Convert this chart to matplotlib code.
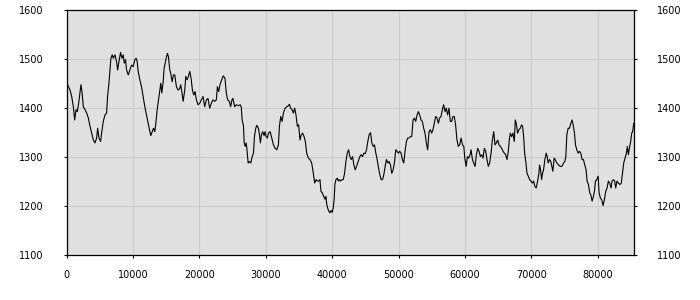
import numpy as np
import matplotlib
matplotlib.use('Agg')
import matplotlib.pyplot as plt

# values, in three stretches (sample index, level)
x_first = [0, 250, 500, 750, 1000, 1200, 1400, 1600, 1800, 2000,
           2150, 2300, 2500, 2760, 3010, 3260, 3510, 3760, 4010, 4260,
           4510, 4660, 4860, 5110, 5260, 5510, 5760, 6010, 6160, 6360,
           6510, 6660, 6860, 7010, 7260, 7520, 7670, 7920, 8120, 8320,
           8520, 8670, 8870, 9020, 9270, 9520, 9770, 10020, 10270, 10470,
           10620, 10770, 11020, 11270, 11520, 11770, 12020, 12270, 12530, 12680,
           12880, 13080, 13280, 13430, 13630, 13830, 14030, 14180, 14330, 14530,
           14680, 14880, 15030, 15180, 15330, 15530, 15680, 15880, 16080, 16280,
           16530, 16780, 17030, 17180, 17380, 17540, 17790, 17940, 18140, 18340,
           18540, 18740, 18940, 19140, 19340, 19540, 19790, 20040, 20290, 20540,
           20790, 21040, 21290, 21540, 21790, 22040, 22290, 22550, 22700, 22900,
           23100, 23350, 23600, 23850, 24050, 24250, 24500, 24700, 24900, 25050,
           25300, 25550, 25800]
y_first = [1454, 1444, 1437, 1424, 1403, 1376, 1397, 1393, 1410, 1431,
           1448, 1434, 1403, 1397, 1390, 1380, 1363, 1349, 1335, 1329,
           1339, 1359, 1339, 1332, 1349, 1373, 1386, 1390, 1424, 1451,
           1478, 1502, 1509, 1502, 1509, 1495, 1478, 1499, 1514, 1502,
           1509, 1492, 1499, 1478, 1468, 1478, 1488, 1485, 1499, 1502,
           1495, 1475, 1458, 1444, 1424, 1403, 1386, 1369, 1352, 1344,
           1352, 1359, 1352, 1369, 1397, 1417, 1437, 1451, 1431, 1454,
           1482, 1495, 1505, 1512, 1505, 1478, 1471, 1454, 1468, 1468,
           1444, 1437, 1440, 1448, 1431, 1414, 1437, 1465, 1458, 1465,
           1475, 1461, 1437, 1427, 1434, 1417, 1407, 1410, 1417, 1424,
           1403, 1417, 1420, 1400, 1410, 1417, 1414, 1417, 1444, 1434,
           1448, 1458, 1466, 1461, 1431, 1417, 1414, 1403, 1417, 1420,
           1403, 1407, 1405]

x_middle = [26140, 26290, 26440, 26640, 26740, 26890, 27040, 27140, 27340, 27540,
            27740, 27940, 28140, 28290, 28490, 28640, 28890, 29040, 29190, 29340,
            29540, 29740, 29890, 30040, 30240, 30390, 30650, 30900, 31150, 31400,
            31650, 31900, 32050, 32250, 32450, 32650, 32900, 33150, 33400, 33550,
            33750, 33950, 34150, 34350, 34550, 34750, 34950, 35150, 35350, 35550,
            35760, 35960, 36160, 36410, 36660, 36910, 37160, 37360, 37560, 37760,
            37960, 38160, 38310, 38510, 38710, 38910, 39060, 39160, 39310, 39510,
            39660, 39810, 40010, 40160, 40310, 40410, 40560, 40770, 40920, 41070,
            41270, 41470, 41670, 41870, 42070, 42270, 42470, 42670, 42870, 43070,
            43270, 43470, 43670, 43920, 44170, 44370, 44570, 44770, 44970, 45170,
            45370, 45570, 45780, 45980, 46180, 46380, 46580, 46780, 46980, 47180,
            47380, 47580, 47780, 47980, 48180, 48380, 48580, 48780, 48980, 49180,
            49380, 49580, 49780, 49980, 50180, 50380, 50580, 50780, 50980, 51190,
            51390, 51590, 51790, 51990, 52190, 52390, 52590, 52790, 52990, 53190,
            53390, 53590, 53790, 53990, 54190, 54390, 54590, 54790, 54990, 55190,
            55390, 55590, 55800, 56000, 56200, 56400, 56600, 56800, 57000, 57200,
            57400, 57600, 57800, 58000, 58200, 58400, 58600, 58800, 59000, 59200]
y_middle = [1407, 1403, 1376, 1363, 1329, 1322, 1329, 1318, 1288, 1291,
            1288, 1301, 1308, 1342, 1359, 1365, 1359, 1346, 1329, 1346,
            1352, 1344, 1352, 1342, 1339, 1349, 1352, 1339, 1325, 1318,
            1315, 1325, 1363, 1383, 1373, 1390, 1400, 1403, 1405, 1408,
            1400, 1397, 1390, 1400, 1386, 1363, 1366, 1335, 1346, 1349,
            1342, 1332, 1308, 1298, 1295, 1288, 1267, 1247, 1254, 1251,
            1251, 1254, 1230, 1227, 1220, 1214, 1220, 1206, 1196, 1189,
            1186, 1191, 1187, 1196, 1216, 1244, 1254, 1257, 1251, 1254,
            1251, 1254, 1254, 1267, 1291, 1308, 1315, 1301, 1295, 1301,
            1284, 1274, 1281, 1291, 1301, 1305, 1301, 1308, 1307, 1315,
            1332, 1346, 1350, 1329, 1322, 1325, 1308, 1295, 1278, 1264,
            1254, 1254, 1264, 1281, 1295, 1288, 1291, 1284, 1267, 1274,
            1288, 1315, 1312, 1308, 1312, 1308, 1295, 1288, 1312, 1332,
            1339, 1339, 1342, 1342, 1376, 1380, 1373, 1386, 1393, 1386,
            1376, 1373, 1359, 1349, 1329, 1315, 1352, 1356, 1349, 1356,
            1369, 1383, 1380, 1369, 1380, 1383, 1397, 1407, 1393, 1400,
            1386, 1400, 1373, 1373, 1383, 1383, 1366, 1335, 1322, 1325]

x_last = [59430, 59630, 59830, 59980, 60180, 60380, 60580, 60780, 60930, 61130,
          61330, 61530, 61730, 61930, 62130, 62330, 62530, 62730, 62930, 63130,
          63330, 63530, 63730, 63940, 64140, 64340, 64540, 64740, 64940, 65140,
          65340, 65540, 65740, 65940, 66140, 66340, 66540, 66690, 66840, 67040,
          67240, 67440, 67590, 67740, 67940, 68140, 68340, 68540, 68690, 68850,
          69000, 69200, 69350, 69550, 69750, 69950, 70150, 70350, 70550, 70750,
          70950, 71150, 71250, 71400, 71550, 71700, 71850, 72050, 72250, 72400,
          72550, 72750, 72950, 73100, 73250, 73450, 73600, 73860, 74110, 74360,
          74610, 74860, 75060, 75210, 75360, 75560, 75760, 75960, 76160, 76310,
          76510, 76660, 76860, 77060, 77260, 77460, 77660, 77860, 78060, 78260,
          78410, 78610, 78810, 78970, 79170, 79370, 79520, 79670, 79870, 80070,
          80220, 80420, 80620, 80820, 81020, 81220, 81420, 81620, 81820, 82020,
          82170, 82370, 82570, 82720, 82920, 83120, 83370, 83570, 83720, 83930,
          84130, 84330, 84480, 84630, 84780, 84980, 85130, 85280, 85430, 85530]
y_last = [1339, 1325, 1322, 1298, 1281, 1301, 1298, 1305, 1315, 1295,
          1288, 1281, 1305, 1318, 1312, 1301, 1305, 1298, 1318, 1312,
          1295, 1281, 1288, 1308, 1335, 1352, 1325, 1329, 1335, 1325,
          1322, 1318, 1312, 1308, 1305, 1295, 1312, 1335, 1349, 1342,
          1349, 1332, 1376, 1369, 1349, 1356, 1359, 1366, 1363, 1342,
          1308, 1288, 1267, 1261, 1254, 1251, 1247, 1251, 1240, 1237,
          1251, 1267, 1284, 1274, 1254, 1267, 1274, 1295, 1308, 1301,
          1288, 1295, 1291, 1281, 1271, 1298, 1295, 1288, 1284, 1281,
          1281, 1288, 1291, 1301, 1346, 1359, 1359, 1369, 1376, 1366,
          1349, 1325, 1315, 1308, 1312, 1308, 1295, 1295, 1284, 1274,
          1251, 1244, 1227, 1223, 1210, 1220, 1230, 1251, 1254, 1261,
          1227, 1216, 1213, 1201, 1213, 1230, 1237, 1251, 1247, 1237,
          1251, 1254, 1251, 1237, 1251, 1247, 1244, 1247, 1264, 1288,
          1298, 1308, 1322, 1305, 1318, 1332, 1349, 1352, 1369, 1366]

y_ticks = [1100, 1200, 1300, 1400, 1500, 1600]
x_ticks = [0, 10000, 20000, 30000, 40000, 50000, 60000, 70000, 80000]

x = np.array(x_first + x_middle + x_last)
y = np.array(y_first + y_middle + y_last)
assert len(x) == len(y)

plt.rcParams['font.family'] = ['DejaVu Sans']

fig = plt.figure(figsize=(7, 3), dpi=100)
ax = fig.add_axes([0.0953, 0.15, 0.8109, 0.8157])
ax.set_facecolor('#e0e0e0')

ax.plot(x, y, color='black', linewidth=0.8, zorder=3)

ax.set_xlim(0, x[-1])
ax.set_ylim(1100, 1600)
ax.set_xticks(x_ticks)
ax.set_yticks(y_ticks)
ax.grid(True, color='#cccccc', linewidth=0.8, zorder=1)
ax.set_axisbelow(True)

for s in ax.spines.values():
    s.set_color('black')
    s.set_linewidth(0.9)

ax.tick_params(axis='both', direction='out', length=2.5, width=0.8,
               labelsize=7, colors='black')
ax.tick_params(axis='y', left=True, right=True, labelleft=True,
               labelright=True, pad=14)
ax.tick_params(axis='x', pad=8)

fig.savefig('out.png', dpi=100)
